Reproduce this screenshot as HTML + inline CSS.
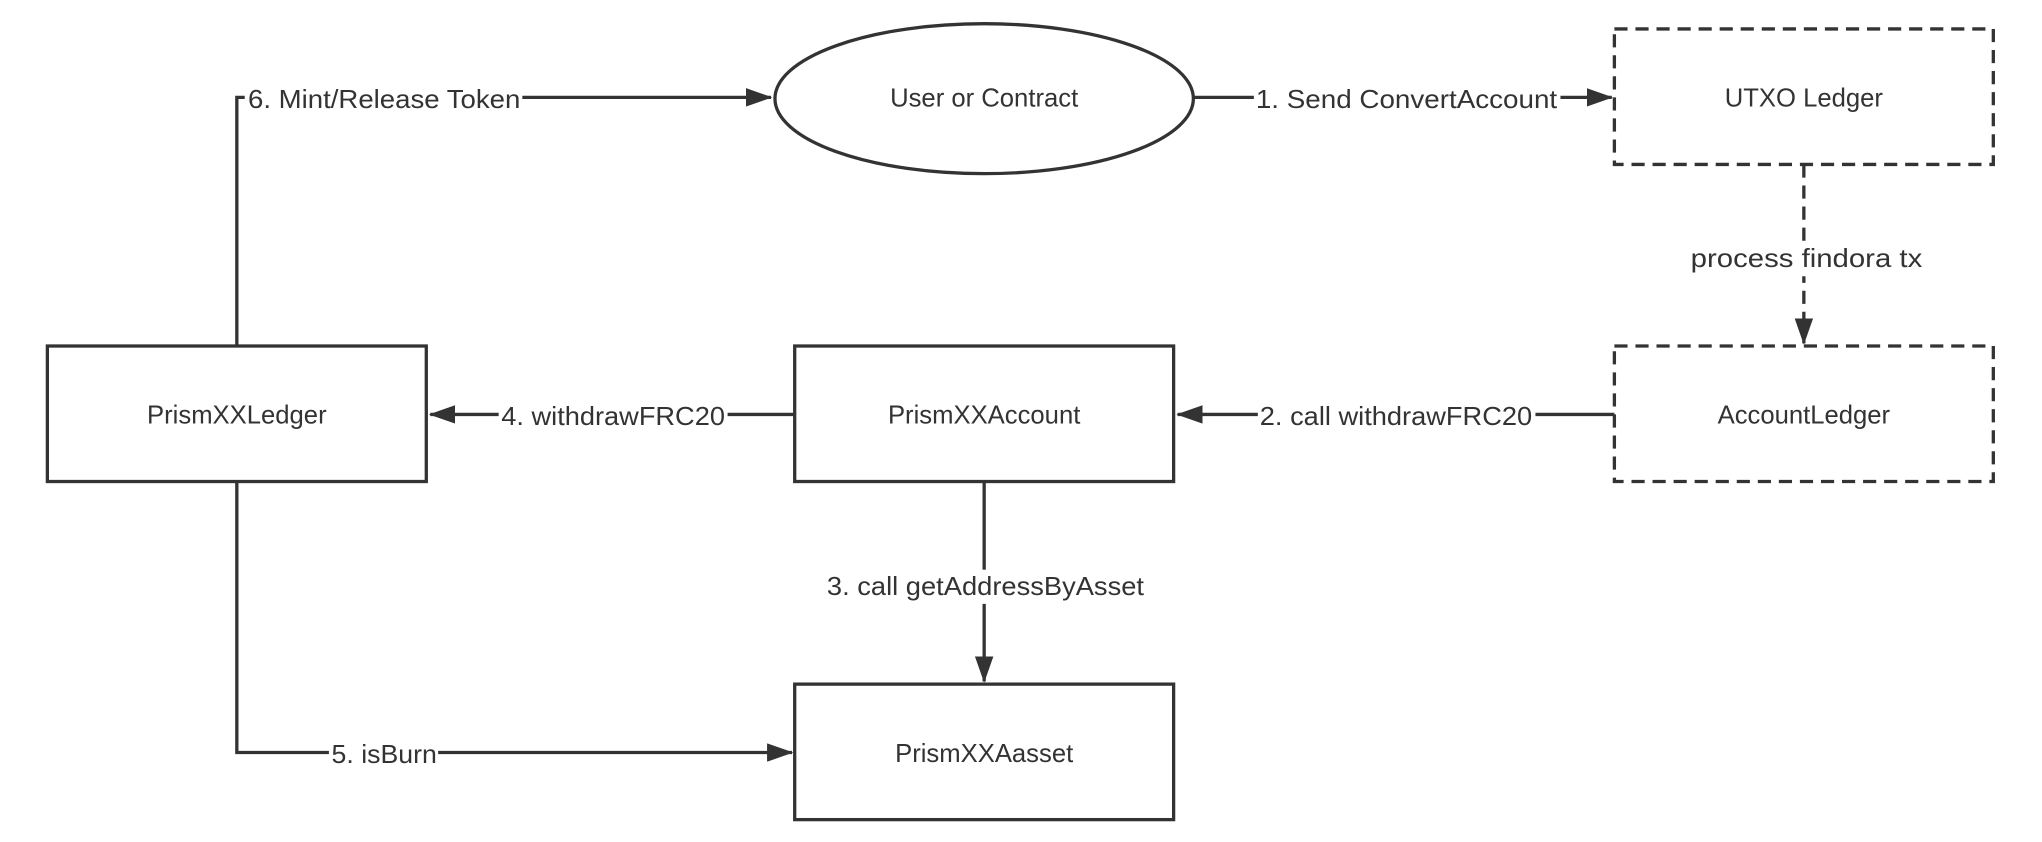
<!DOCTYPE html>
<html><head><meta charset="utf-8"><style>html,body{margin:0;padding:0;background:#fff;}svg{display:block}</style></head>
<body>
<svg width="2042" height="842" viewBox="0 0 1552 640" preserveAspectRatio="none" xmlns="http://www.w3.org/2000/svg">
<defs>
<marker id="b" markerWidth="20" markerHeight="14" refX="19" refY="7" orient="auto" markerUnits="userSpaceOnUse"><path d="M0,0 L20,7 L0,14 Z" fill="#333"/></marker></defs>
<g fill="#fff" stroke="#333" stroke-width="2.5">
<ellipse cx="748" cy="75" rx="159" ry="57"/>
<rect x="1227" y="22" width="288" height="103" stroke-dasharray="10,6"/>
<rect x="1227" y="263" width="288" height="103" stroke-dasharray="10,6"/>
<rect x="36" y="263" width="288" height="103"/>
<rect x="604" y="263" width="288" height="103"/>
<rect x="604" y="520" width="288" height="103"/>
</g>
<g fill="none" stroke="#333" stroke-width="2.5">
<path d="M180 263 V74 H586" marker-end="url(#b)"/>
<path d="M907 74 H1225" marker-end="url(#b)"/>
<path d="M1371 125 V261" stroke-dasharray="10,6" marker-end="url(#b)"/>
<path d="M1227 315 H895" marker-end="url(#b)"/>
<path d="M604 315 H327" marker-end="url(#b)"/>
<path d="M748 366 V518" marker-end="url(#b)"/>
<path d="M180 366 V572 H602" marker-end="url(#b)"/>
</g>
<g font-family="'Liberation Sans', sans-serif" font-size="19.5" fill="#333" text-anchor="middle" dominant-baseline="central">
<rect x="186" y="62" width="211" height="26" fill="#fff"/><text x="292" y="76" textLength="207" lengthAdjust="spacingAndGlyphs">6. Mint/Release Token</text>
<rect x="953" y="62" width="233" height="26" fill="#fff"/><text x="1069" y="76" textLength="229" lengthAdjust="spacingAndGlyphs">1. Send ConvertAccount</text>
<rect x="1283" y="184" width="180" height="26" fill="#fff"/><text x="1373" y="197" textLength="176" lengthAdjust="spacingAndGlyphs">process findora tx</text>
<rect x="956" y="302" width="211" height="26" fill="#fff"/><text x="1061" y="317" textLength="207" lengthAdjust="spacingAndGlyphs">2. call withdrawFRC20</text>
<rect x="379" y="302" width="174" height="26" fill="#fff"/><text x="466" y="317" textLength="170" lengthAdjust="spacingAndGlyphs">4. withdrawFRC20</text>
<rect x="627" y="433" width="244" height="26" fill="#fff"/><text x="749" y="446" textLength="241" lengthAdjust="spacingAndGlyphs">3. call getAddressByAsset</text>
<rect x="250" y="560" width="83" height="26" fill="#fff"/><text x="292" y="574" textLength="80" lengthAdjust="spacingAndGlyphs">5. isBurn</text>
<text x="748" y="75">User or Contract</text>
<text x="1371" y="75">UTXO Ledger</text>
<text x="1371" y="316">AccountLedger</text>
<text x="180" y="316">PrismXXLedger</text>
<text x="748" y="316">PrismXXAccount</text>
<text x="748" y="573">PrismXXAasset</text>
</g>
</svg>
</body></html>
